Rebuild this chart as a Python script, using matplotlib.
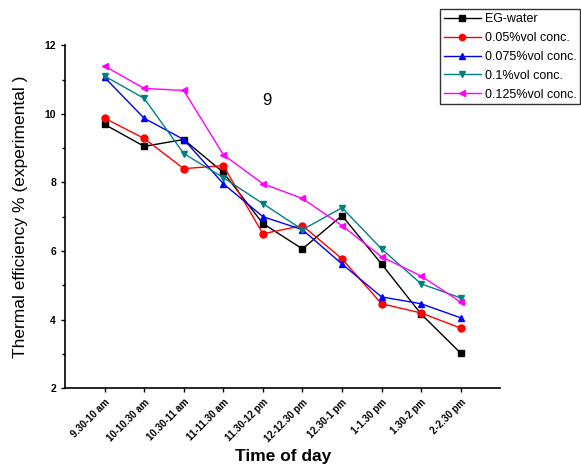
import matplotlib
matplotlib.use("Agg")
import matplotlib.pyplot as plt
from matplotlib.ticker import MultipleLocator

plt.rcParams['font.family'] = ['Liberation Sans', 'DejaVu Sans']

# Data
time_labels = ['9.30-10 am', '10-10.30 am', '10.30-11 am', '11-11.30 am', '11.30-12 pm',
               '12-12.30 pm', '12.30-1 pm', '1-1.30 pm', '1.30-2 pm', '2-2.30 pm']
eg_water = [9.69, 9.05, 9.25, 8.29, 6.80, 6.06, 7.03, 5.62, 4.16, 3.02]
conc_005 = [9.87, 9.28, 8.40, 8.49, 6.50, 6.74, 5.77, 4.46, 4.19, 3.75]
conc_0075 = [11.06, 9.87, 9.25, 7.96, 7.00, 6.62, 5.62, 4.66, 4.46, 4.05]
conc_01 = [11.10, 10.45, 8.84, 8.14, 7.38, 6.62, 7.26, 6.06, 5.04, 4.63]
conc_0125 = [11.39, 10.74, 10.68, 8.81, 7.96, 7.53, 6.74, 5.83, 5.27, 4.51]

series = [
    ('EG-water', eg_water, 'black', 's'),
    ('0.05%vol conc.', conc_005, 'red', 'o'),
    ('0.075%vol conc.', conc_0075, 'blue', '^'),
    ('0.1%vol conc.', conc_01, '#008080', 'v'),
    ('0.125%vol conc.', conc_0125, 'magenta', '<'),
]

x = list(range(1, len(time_labels) + 1))

fig = plt.figure(figsize=(5.81, 4.71), dpi=100)
ax = fig.add_axes([0.112, 0.176, 0.749, 0.728])

for label, vals, color, marker in series:
    ax.plot(x, vals, color=color, marker=marker, markersize=5, linewidth=1, label=label)

ax.set_xlim(0, 11)
ax.set_ylim(2, 12)
ax.set_xticks(x)
ax.set_xticklabels(time_labels, rotation=45, ha='right', rotation_mode='anchor',
                   fontsize=7, fontweight='bold')
ax.yaxis.set_major_locator(MultipleLocator(2))
ax.yaxis.set_minor_locator(MultipleLocator(1))
for lab in ax.get_yticklabels():
    lab.set_fontsize(7.5)
    lab.set_fontweight('bold')
ax.tick_params(axis='both', which='major', length=3, width=1)
ax.tick_params(axis='y', which='minor', length=2, width=1)

ax.spines['top'].set_visible(False)
ax.spines['right'].set_visible(False)
ax.spines['left'].set_linewidth(1.2)
ax.spines['bottom'].set_linewidth(1.2)

ax.set_xlabel('Time of day', fontsize=12.5, fontweight='bold', labelpad=4)
ax.set_ylabel('Thermal efficiency % (experimental )', fontsize=12.5, labelpad=12)

ax.text(5.1, 10.4, '9', fontsize=12, ha='center', va='center')

leg = fig.legend(loc='upper right', bbox_to_anchor=(0.999, 0.98), fontsize=9,
                 frameon=True, fancybox=False, edgecolor='black', handlelength=3.0,
                 borderpad=0.3, labelspacing=0.55, handletextpad=0.3, borderaxespad=0,
                 markerscale=0.9)
leg.get_frame().set_linewidth(1)

fig.savefig('out.png', dpi=100)
